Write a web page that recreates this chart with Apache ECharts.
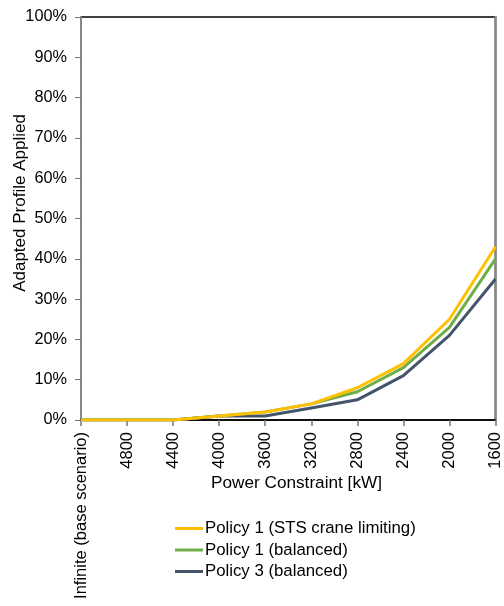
<!DOCTYPE html>
<html>
<head>
<meta charset="utf-8">
<script src="https://cdn.jsdelivr.net/npm/echarts@6/dist/echarts.min.js"></script>
<style>
  html, body { margin: 0; padding: 0; background: #fff; }
  #chart { width: 504px; height: 606px; }
</style>
</head>
<body>
<div id="chart"></div>
<script>
// Power constraint scenarios (kW), from unconstrained down to 1600 kW
const categories = ['Infinite (base scenario)', '4800', '4400', '4000', '3600', '3200', '2800', '2400', '2000', '1600'];

// Share of the adapted profile applied (%)
const policy1Sts = [0, 0, 0, 1, 2, 4, 8, 14, 25, 43];
const policy1Balanced = [0, 0, 0, 1, 2, 4, 7, 13, 23, 40];
const policy3Balanced = [0, 0, 0, 1, 1, 3, 5, 11, 21, 35];

const seriesNames = ['Policy 1 (STS crane limiting)', 'Policy 1 (balanced)', 'Policy 3 (balanced)'];
const seriesColors = ['#FFC000', '#70AD47', '#44546A'];
const seriesData = [policy1Sts, policy1Balanced, policy3Balanced];

const FONT = 'Liberation Sans, Arial, Helvetica, sans-serif';

const chart = echarts.init(document.getElementById('chart'), null, { renderer: 'canvas' });

chart.setOption({
  animation: false,
  backgroundColor: '#ffffff',
  textStyle: { fontFamily: FONT },
  // black frame around the plot; left/right axes are redrawn in grey on top
  grid: {
    left: 81, right: 8, top: 17, bottom: 186,
    containLabel: false,
    show: true,
    borderColor: '#000',
    borderWidth: 1.5,
    backgroundColor: 'transparent'
  },
  legend: {
    orient: 'vertical',
    left: 175,
    top: 520,
    padding: 0,
    icon: 'rect',
    itemWidth: 28,
    itemHeight: 3,
    itemGap: 4.5,
    data: seriesNames,
    textStyle: { fontFamily: FONT, fontSize: 16.8, color: '#000', padding: [0, 0, 0, -3] }
  },
  xAxis: {
    type: 'category',
    data: categories,
    boundaryGap: false,
    axisLine: { lineStyle: { color: '#000', width: 1.5 } },
    axisTick: { show: true, inside: false, length: 6, lineStyle: { color: '#777', width: 1.5 } },
    axisLabel: {
      rotate: 90,
      interval: 0,
      margin: 12,
      fontFamily: FONT,
      fontSize: 16.5,
      color: '#000'
    },
    splitLine: { show: false }
  },
  yAxis: [
    {
      type: 'value',
      min: 0,
      max: 100,
      interval: 10,
      axisLine: { show: true, lineStyle: { color: '#888', width: 2 } },
      axisTick: { show: true, inside: false, length: 6, lineStyle: { color: '#777', width: 1 } },
      axisLabel: {
        formatter: '{value}%',
        margin: 14,
        fontFamily: FONT,
        fontSize: 16.3,
        color: '#000'
      },
      splitLine: { show: false }
    },
    {
      type: 'value',
      position: 'right',
      min: 0,
      max: 100,
      interval: 10,
      axisLine: { show: true, lineStyle: { color: '#888', width: 2.5 } },
      axisTick: { show: false },
      axisLabel: { show: false },
      splitLine: { show: false }
    }
  ],
  graphic: [
    {
      type: 'text',
      left: 211,
      top: 475,
      style: { text: 'Power Constraint [kW]', font: '17.2px ' + FONT, fill: '#000' }
    },
    {
      type: 'text',
      x: 20,
      y: 203,
      rotation: Math.PI / 2,
      style: {
        text: 'Adapted Profile Applied',
        font: '17px ' + FONT,
        fill: '#000',
        align: 'center',
        verticalAlign: 'middle'
      }
    }
  ],
  series: seriesNames.map((name, i) => ({
    name: name,
    type: 'line',
    data: seriesData[i],
    symbol: 'none',
    smooth: false,
    lineStyle: { color: seriesColors[i], width: 3 },
    itemStyle: { color: seriesColors[i] },
    z: 3 - i
  }))
});
</script>
</body>
</html>
